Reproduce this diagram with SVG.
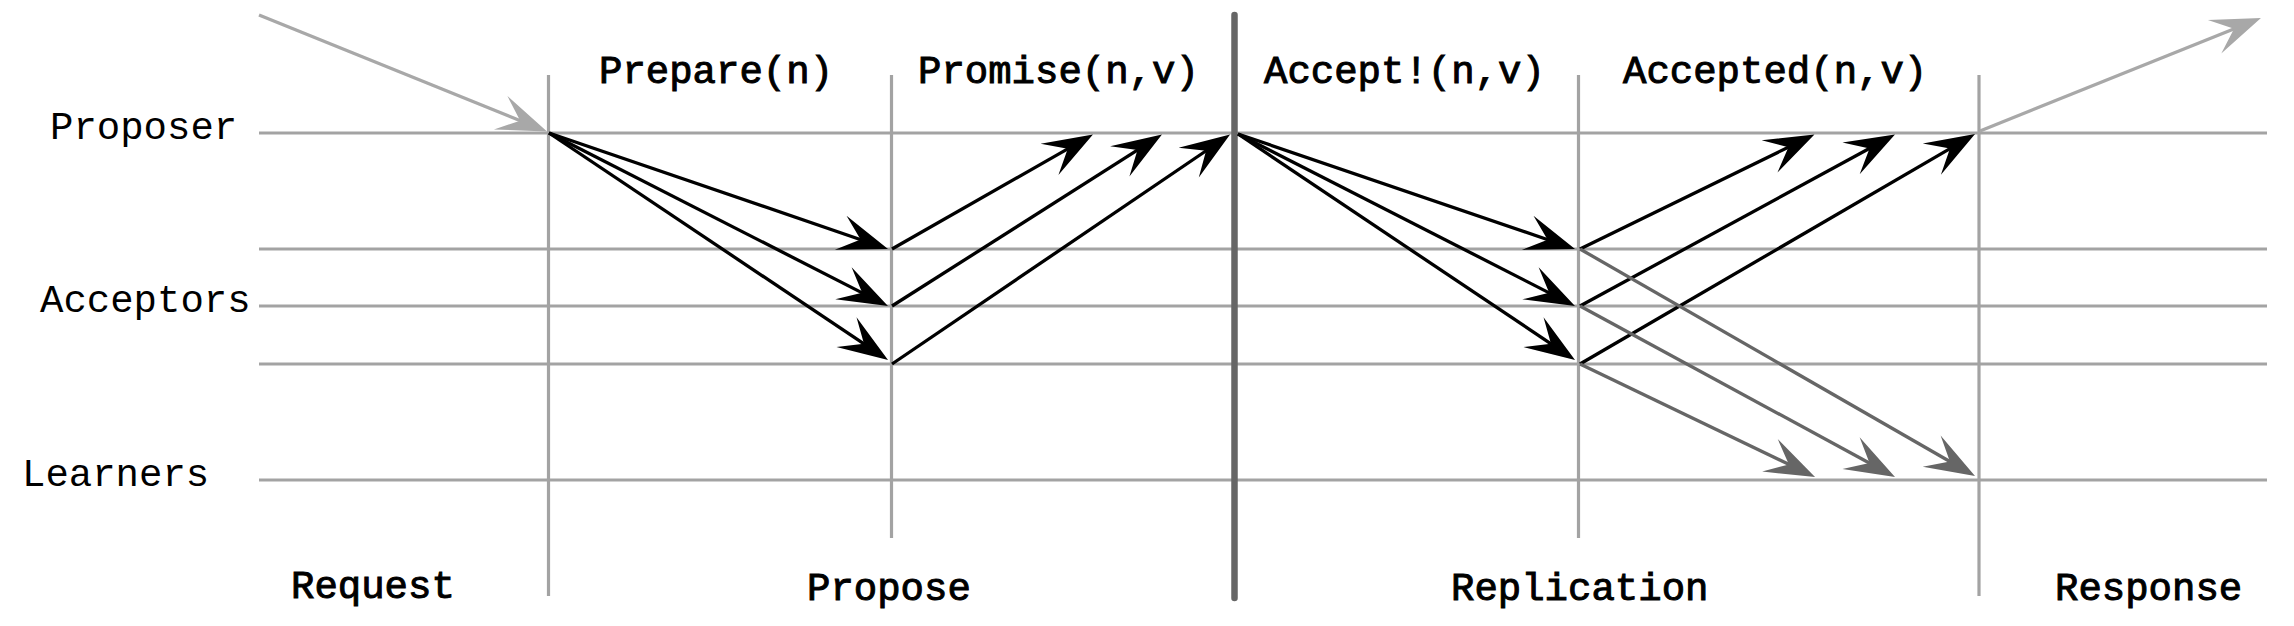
<svg xmlns="http://www.w3.org/2000/svg" width="2294" height="626" viewBox="0 0 2294 626">
<style>
.bg{fill:#ffffff}
.grid{stroke:#a3a3a3;stroke-width:3.2;fill:none}
.thick{stroke:#666666;stroke-width:6.5;stroke-linecap:round;fill:none}
.msg{stroke:#000000;stroke-width:3.3;fill:none}
.learn{stroke:#666666;stroke-width:3.3;fill:none}
.io{stroke:#a8a8a8;stroke-width:3.3;fill:none}
.role{font-family:"Liberation Mono","DejaVu Sans Mono",monospace;font-size:39px;fill:#000}
.title{font-family:"Liberation Mono","DejaVu Sans Mono",monospace;font-size:39px;fill:#000;stroke:#000;stroke-width:1}
</style>
<defs>
<marker id="hb" markerUnits="userSpaceOnUse" viewBox="-52 -20 54 40" markerWidth="54" markerHeight="40" refX="-24" refY="0" orient="auto">
<path d="M0,0 L-50,-18 L-29,0 L-50,18 Z" fill="#000000"/>
</marker>
<marker id="hd" markerUnits="userSpaceOnUse" viewBox="-52 -20 54 40" markerWidth="54" markerHeight="40" refX="-24" refY="0" orient="auto">
<path d="M0,0 L-50,-18 L-29,0 L-50,18 Z" fill="#666666"/>
</marker>
<marker id="hl" markerUnits="userSpaceOnUse" viewBox="-52 -20 54 40" markerWidth="54" markerHeight="40" refX="-24" refY="0" orient="auto">
<path d="M0,0 L-50,-18 L-29,0 L-50,18 Z" fill="#a8a8a8"/>
</marker>
</defs>
<rect class="bg" x="0" y="0" width="2294" height="626"/>
<g id="timelines">
<line class="grid" x1="259" y1="133" x2="2267" y2="133"/>
<line class="grid" x1="259" y1="249" x2="2267" y2="249"/>
<line class="grid" x1="259" y1="306" x2="2267" y2="306"/>
<line class="grid" x1="259" y1="364" x2="2267" y2="364"/>
<line class="grid" x1="259" y1="480" x2="2267" y2="480"/>
<line class="grid" x1="548.5" y1="75" x2="548.5" y2="596"/>
<line class="grid" x1="891.5" y1="75" x2="891.5" y2="538"/>
<line class="grid" x1="1578.5" y1="75" x2="1578.5" y2="538"/>
<line class="grid" x1="1979" y1="75" x2="1979" y2="596"/>
<line class="thick" x1="1234.5" y1="15" x2="1234.5" y2="598"/>
</g>
<g id="proposer"><text class="role" x="50" y="139">Proposer</text></g>
<g id="acceptors"><text class="role" x="40" y="312">Acceptors</text></g>
<g id="learners"><text class="role" x="22" y="486">Learners</text></g>
<g id="labels">
<text class="title" x="599" y="83">Prepare(n)</text>
<text class="title" x="918" y="83">Promise(n,v)</text>
<text class="title" x="1264" y="83">Accept!(n,v)</text>
<text class="title" x="1623" y="83">Accepted(n,v)</text>
<text class="title" x="291" y="598">Request</text>
<text class="title" x="807" y="600">Propose</text>
<text class="title" x="1451" y="600">Replication</text>
<text class="title" x="2055" y="600">Response</text>
</g>
<g id="connectors">
<line class="io" x1="259" y1="15" x2="524.8" y2="122.5" marker-end="url(#hl)"/>
<line class="msg" x1="549" y1="133" x2="865.3" y2="241.2" marker-end="url(#hb)"/>
<line class="msg" x1="549" y1="133" x2="866.6" y2="295.1" marker-end="url(#hb)"/>
<line class="msg" x1="549" y1="133" x2="868.1" y2="346.6" marker-end="url(#hb)"/>
<line class="msg" x1="892" y1="249" x2="1072.1" y2="146.4" marker-end="url(#hb)"/>
<line class="msg" x1="892" y1="306" x2="1141.7" y2="147.4" marker-end="url(#hb)"/>
<line class="msg" x1="892" y1="364" x2="1210.2" y2="148" marker-end="url(#hb)"/>
<line class="msg" x1="1238" y1="134" x2="1552.3" y2="241.25" marker-end="url(#hb)"/>
<line class="msg" x1="1238" y1="134" x2="1553.6" y2="295.1" marker-end="url(#hb)"/>
<line class="msg" x1="1238" y1="134" x2="1555.1" y2="346.6" marker-end="url(#hb)"/>
<line class="msg" x1="1580" y1="249" x2="1792.9" y2="145" marker-end="url(#hb)"/>
<line class="msg" x1="1580" y1="306" x2="1873.9" y2="146" marker-end="url(#hb)"/>
<line class="msg" x1="1580" y1="364" x2="1954.3" y2="146.1" marker-end="url(#hb)"/>
<line class="learn" x1="1580" y1="249" x2="1954.2" y2="464" marker-end="url(#hd)"/>
<line class="learn" x1="1580" y1="306" x2="1873.9" y2="465.5" marker-end="url(#hd)"/>
<line class="learn" x1="1580" y1="364" x2="1793.4" y2="466.6" marker-end="url(#hd)"/>
<line class="io" x1="1980" y1="131" x2="2238.7" y2="27" marker-end="url(#hl)"/>
</g>
</svg>
